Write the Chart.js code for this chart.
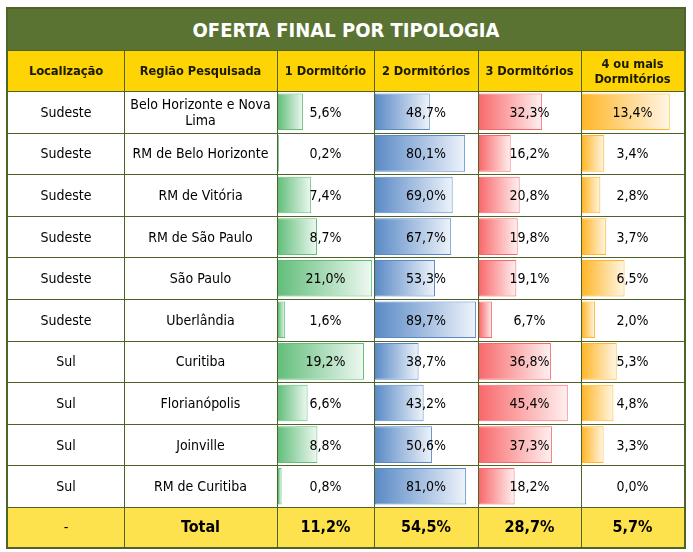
<!DOCTYPE html>
<html lang="pt-BR">
<head>
<meta charset="utf-8">
<title>Oferta final por tipologia</title>
<script src="https://cdn.jsdelivr.net/npm/chart.js@4.4.1/dist/chart.umd.min.js"></script>
<style>
  html, body { margin: 0; padding: 0; background: #fff; }
  #sheet {
    position: relative; width: 693px; height: 552px; overflow: hidden;
    font-family: "DejaVu Sans Condensed", "DejaVu Sans", sans-serif; color: #000;
  }
  .abs { position: absolute; box-sizing: border-box; }
  .cell {
    position: absolute; box-sizing: border-box; display: flex;
    align-items: center; justify-content: center; text-align: center;
    font-size: 14px; line-height: 16px; z-index: 3;
  }
  .hdr { font-weight: bold; font-size: 12.7px; line-height: 15px; color: #1a1a00; }
  .tot { font-weight: bold; font-size: 16px; }
  .vline { position: absolute; width: 1px; background: #4f6228; z-index: 2; }
  .hline { position: absolute; height: 1px; background: #4f6228; z-index: 2; }
  canvas { position: absolute; z-index: 1; }
</style>
</head>
<body>
<div id="sheet"></div>
<script>
(() => {
  'use strict';

  // ── Data ────────────────────────────────────────────────────────────────────

  const TITLE = 'OFERTA FINAL POR TIPOLOGIA';
  const HEADERS = ['Localização', 'Região Pesquisada', '1 Dormitório',
                   '2 Dormitórios', '3 Dormitórios', '4 ou mais<br>Dormitórios'];

  const LOCALIZACAO = ['Sudeste', 'Sudeste', 'Sudeste', 'Sudeste', 'Sudeste',
                       'Sudeste', 'Sul', 'Sul', 'Sul', 'Sul'];
  const REGIOES = ['Belo Horizonte e Nova Lima', 'RM de Belo Horizonte', 'RM de Vitória',
                   'RM de São Paulo', 'São Paulo', 'Uberlândia', 'Curitiba',
                   'Florianópolis', 'Joinville', 'RM de Curitiba'];

  const DORM_1 = [5.6, 0.2, 7.4, 8.7, 21.0, 1.6, 19.2, 6.6, 8.8, 0.8];
  const DORM_2 = [48.7, 80.1, 69.0, 67.7, 53.3, 89.7, 38.7, 43.2, 50.6, 81.0];
  const DORM_3 = [32.3, 16.2, 20.8, 19.8, 19.1, 6.7, 36.8, 45.4, 37.3, 18.2];
  const DORM_4 = [13.4, 3.4, 2.8, 3.7, 6.5, 2.0, 5.3, 4.8, 3.3, 0.0];

  const TOTAL_LABELS = ['-', 'Total'];
  const TOTALS = [11.2, 54.5, 28.7, 5.7];

  // ── Layout / style ──────────────────────────────────────────────────────────

  const COL_X = [8, 124, 277, 374, 478, 581, 684];
  const TITLE_TOP = 9, HEADER_TOP = 50, BODY_TOP = 91, ROW_H = 41.6, TOTAL_BOTTOM = 547;
  const BODY_BOTTOM = BODY_TOP + ROW_H * REGIOES.length;

  const BAR_COLORS = [
    { fill: '#63be7b', end: '#eef8f1' },
    { fill: '#5a8ac6', end: '#eef3fa' },
    { fill: '#f8696b', end: '#fff0f0' },
    { fill: '#ffb628', end: '#fff6e6' },
  ];
  // share of the cell width used by the longest bar of each column
  const BAR_FILL = [0.98, 0.98, 0.87, 0.86];

  const fmt = v => v.toFixed(1).replace('.', ',') + '%';
  const sheet = document.getElementById('sheet');

  function el(cls, css, html) {
    const d = document.createElement('div');
    d.className = cls;
    Object.assign(d.style, css);
    if (html !== undefined) d.innerHTML = html;
    sheet.appendChild(d);
    return d;
  }

  // ── Backgrounds ─────────────────────────────────────────────────────────────

  el('abs', { left: '6px', top: '7px', width: '680px', height: '542px',
              border: '2px solid #4f6228', zIndex: 4 });
  el('abs', { left: '8px', top: TITLE_TOP + 'px', width: (COL_X[6] - 8) + 'px',
              height: (HEADER_TOP - TITLE_TOP) + 'px', background: '#5a7332' });
  el('abs', { left: '8px', top: HEADER_TOP + 'px', width: (COL_X[6] - 8) + 'px',
              height: (BODY_TOP - HEADER_TOP) + 'px', background: '#ffd404' });
  el('abs', { left: '8px', top: BODY_BOTTOM + 'px', width: (COL_X[6] - 8) + 'px',
              height: (TOTAL_BOTTOM - BODY_BOTTOM) + 'px', background: '#fde24e' });

  // title
  el('cell', { left: '8px', top: TITLE_TOP + 'px', width: (COL_X[6] - 8) + 'px',
               height: (HEADER_TOP - TITLE_TOP) + 'px', color: '#fff',
               fontWeight: 'bold', fontSize: '20px' }, TITLE);

  // ── Grid lines ──────────────────────────────────────────────────────────────

  el('hline', { left: '8px', top: HEADER_TOP + 'px', width: (COL_X[6] - 8) + 'px' });
  for (let i = 0; i <= REGIOES.length; i++) {
    el('hline', { left: '8px', top: Math.round(BODY_TOP + ROW_H * i) + 'px',
                  width: (COL_X[6] - 8) + 'px' });
  }
  for (let c = 1; c < COL_X.length - 1; c++) {
    el('vline', { left: COL_X[c] + 'px', top: HEADER_TOP + 'px',
                  height: (TOTAL_BOTTOM - HEADER_TOP) + 'px' });
  }

  // ── Text cells ──────────────────────────────────────────────────────────────

  function cell(col, top, height, html, cls) {
    return el('cell ' + (cls || ''), {
      left: COL_X[col] + 'px', top: top + 'px',
      width: (COL_X[col + 1] - COL_X[col]) + 'px', height: height + 'px',
    }, html);
  }

  HEADERS.forEach((h, c) => cell(c, HEADER_TOP, BODY_TOP - HEADER_TOP, h, 'hdr'));

  const COLUMNS = [DORM_1, DORM_2, DORM_3, DORM_4];
  REGIOES.forEach((r, i) => {
    const top = BODY_TOP + ROW_H * i;
    cell(0, top, ROW_H, LOCALIZACAO[i]);
    cell(1, top, ROW_H, r === 'Belo Horizonte e Nova Lima' ? 'Belo Horizonte e Nova<br>Lima' : r);
    COLUMNS.forEach((vals, c) => cell(c + 2, top, ROW_H, fmt(vals[i])));
  });

  TOTAL_LABELS.forEach((t, c) => cell(c, BODY_BOTTOM, TOTAL_BOTTOM - BODY_BOTTOM, t,
                                      c === 0 ? '' : 'tot'));
  TOTALS.forEach((v, c) => cell(c + 2, BODY_BOTTOM, TOTAL_BOTTOM - BODY_BOTTOM, fmt(v), 'tot'));

  // ── Data bars ───────────────────────────────────────────────────────────────

  function buildBars(vals, c) {
    const col = c + 2;
    const canvas = document.createElement('canvas');
    const w = COL_X[col + 1] - COL_X[col] - 1;
    const h = Math.round(BODY_BOTTOM - BODY_TOP);
    canvas.width = w;
    canvas.height = h;
    canvas.style.left = (COL_X[col] + 1) + 'px';
    canvas.style.top = BODY_TOP + 'px';
    sheet.appendChild(canvas);

    const { fill, end } = BAR_COLORS[c];
    const max = Math.max(...vals) / BAR_FILL[c];

    new Chart(canvas.getContext('2d'), {
      type: 'bar',
      data: {
        labels: REGIOES,
        datasets: [{
          data: vals,
          backgroundColor: ctx => {
            const x = ctx.chart.scales.x;
            if (!x || typeof ctx.raw !== 'number') return fill;
            const x0 = x.getPixelForValue(0);
            const x1 = Math.max(x.getPixelForValue(ctx.raw), x0 + 1);
            if (!isFinite(x0) || !isFinite(x1)) return fill;
            const g = ctx.chart.ctx.createLinearGradient(x0, 0, x1, 0);
            g.addColorStop(0, fill);
            g.addColorStop(1, end);
            return g;
          },
          borderColor: fill,
          borderWidth: 1,
          borderSkipped: false,
          barPercentage: 0.88,
          categoryPercentage: 1,
        }],
      },
      options: {
        indexAxis: 'y',
        responsive: false,
        animation: false,
        events: [],
        layout: { padding: 0 },
        plugins: { legend: { display: false }, tooltip: { enabled: false } },
        scales: {
          x: { display: false, min: 0, max },
          y: { display: false },
        },
      },
    });
  }

  COLUMNS.forEach(buildBars);
})();
</script>
</body>
</html>
